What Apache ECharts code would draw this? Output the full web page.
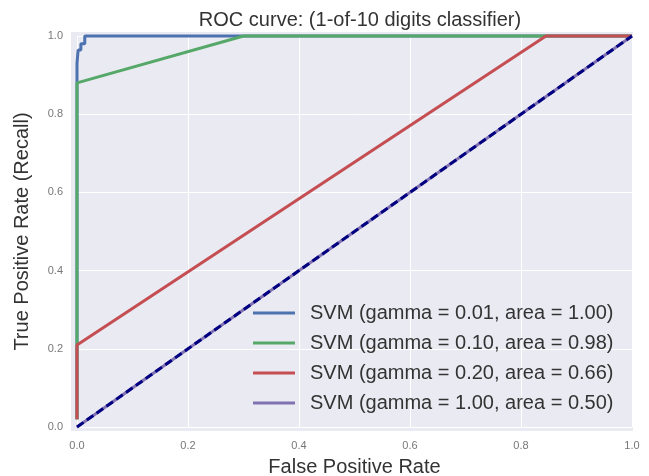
<!DOCTYPE html>
<html>
<head>
<meta charset="utf-8">
<script src="https://cdn.jsdelivr.net/npm/echarts@6/dist/echarts.min.js"></script>
<style>
  html, body { margin: 0; padding: 0; background: #fff; }
  #chart { width: 649px; height: 476px; }
</style>
</head>
<body>
<div id="chart"></div>
<script>
// ROC curve points [fpr, tpr]
var rocGamma001 = [[0, 0.02], [0, 0.93], [0.002, 0.93], [0.002, 0.964], [0.007, 0.964], [0.007, 0.98], [0.014, 0.98], [0.014, 1.0], [1, 1]];
var rocGamma010 = [[0, 0.02], [0, 0.88], [0.30, 1.0], [1, 1]];
var rocGamma020 = [[0, 0.02], [0, 0.21], [0.845, 1.0], [1, 1]];
var rocGamma100 = [[0, 0], [1, 1]];
var chanceLine = [[0, 0], [1, 1]];

var seriesNames = [
  'SVM (gamma = 0.01, area = 1.00)',
  'SVM (gamma = 0.10, area = 0.98)',
  'SVM (gamma = 0.20, area = 0.66)',
  'SVM (gamma = 1.00, area = 0.50)'
];
var seriesColors = ['#4C72B0', '#55A868', '#C44E52', '#8172B2'];

var font = 'Liberation Sans, Arial, sans-serif';
var myChart = echarts.init(document.getElementById('chart'));

var curves = [rocGamma001, rocGamma010, rocGamma020, rocGamma100];
var seriesList = curves.map(function (pts, i) {
  return {
    name: seriesNames[i],
    type: 'line',
    data: pts,
    showSymbol: false,
    clip: false,
    color: seriesColors[i],
    lineStyle: { width: 3, color: seriesColors[i] },
    z: 2 + i
  };
});
seriesList.push({
  name: 'chance',
  type: 'line',
  data: chanceLine,
  showSymbol: false,
  clip: false,
  lineStyle: { width: 3, color: '#000080', type: [8, 4] },
  z: 10
});

var option = {
  animation: false,
  title: {
    text: 'ROC curve: (1-of-10 digits classifier)',
    left: 355,
    top: 5,
    textAlign: 'center',
    textStyle: { fontFamily: font, fontSize: 20, fontWeight: 'normal', color: '#333' }
  },
  // plot background slightly larger than the 0..1 range (xlim -0.01, ylim -0.01..1.01)
  graphic: [{
    type: 'rect',
    z: -10,
    shape: { x: 71, y: 32, width: 562, height: 399 },
    style: { fill: '#EAEAF2' },
    silent: true
  }],
  grid: { left: 77, right: 17, top: 36, bottom: 49, outerBoundsMode: 'none' },
  legend: {
    data: seriesNames,
    orient: 'vertical',
    left: 248,
    top: 298,
    icon: 'rect',
    itemWidth: 42,
    itemHeight: 3,
    itemGap: 10,
    textStyle: { fontFamily: font, fontSize: 20, color: '#333', padding: [0, 0, 0, 10], lineHeight: 20 }
  },
  xAxis: {
    type: 'value',
    min: 0,
    max: 1,
    interval: 0.2,
    name: 'False Positive Rate',
    nameLocation: 'middle',
    nameGap: 30,
    nameTextStyle: { fontFamily: font, fontSize: 20, color: '#333' },
    axisLine: { show: false },
    axisTick: { show: false },
    axisLabel: {
      fontFamily: font, fontSize: 11, color: '#777', margin: 13,
      formatter: function (v) { return v.toFixed(1); }
    },
    splitLine: { show: true, lineStyle: { color: '#ffffff', width: 1 } }
  },
  yAxis: {
    type: 'value',
    min: 0,
    max: 1,
    interval: 0.2,
    name: 'True Positive Rate (Recall)',
    nameLocation: 'middle',
    nameGap: 45,
    nameTextStyle: { fontFamily: font, fontSize: 20, color: '#333' },
    axisLine: { show: false },
    axisTick: { show: false },
    axisLabel: {
      fontFamily: font, fontSize: 11, color: '#777', margin: 14,
      formatter: function (v) { return v.toFixed(1); }
    },
    splitLine: { show: true, lineStyle: { color: '#ffffff', width: 1 } }
  },
  series: seriesList
};

myChart.setOption(option);
</script>
</body>
</html>
